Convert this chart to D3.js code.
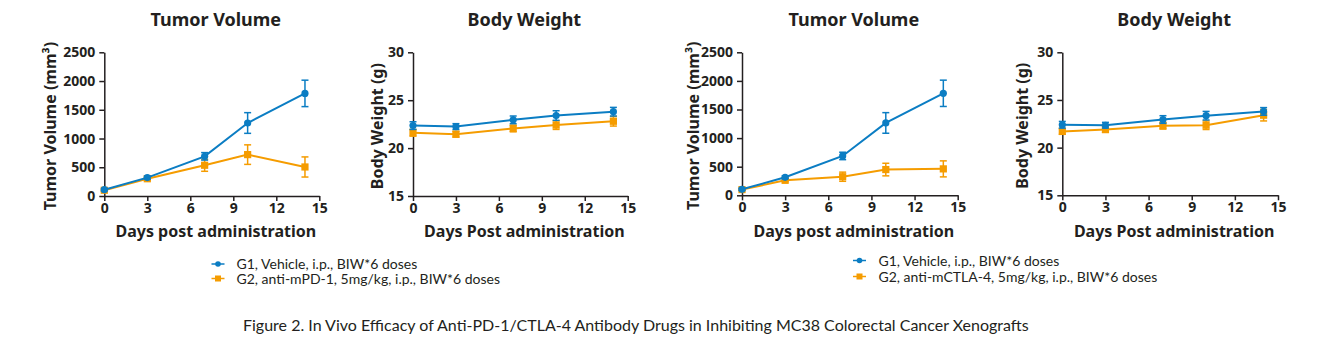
<!DOCTYPE html>
<html>
<head>
<meta charset="utf-8">
<script src="https://cdn.jsdelivr.net/npm/d3@7"></script>
<style>
  body { margin: 0; background: #fff; }
  svg { display: block; }
  text { font-family: Lato, "Open Sans", sans-serif; fill: #231f20; }
  .bold { font-family: "Noto Sans", sans-serif; font-weight: bold; }
</style>
</head>
<body>
<svg id="chart" width="1328" height="354"></svg>
<script>
// days measured
const days = [0, 3, 7, 10, 14];
const xTicks = [0, 3, 6, 9, 12, 15];
const tvTicks = [0, 500, 1000, 1500, 2000, 2500];
const bwTicks = [15, 20, 25, 30];

// experiment 1 : anti-PD-1
const tvVehicleA = [110, 320, 690, 1270, 1785];
const tvVehicleAErr = [20, 25, 65, 180, 230];
const tvPD1 = [100, 300, 535, 720, 505];
const tvPD1Err = [15, 20, 105, 170, 175];
const bwVehicleA = [22.35, 22.25, 22.95, 23.4, 23.8];
const bwVehicleAErr = [0.4, 0.3, 0.4, 0.5, 0.45];
const bwPD1 = [21.6, 21.45, 22.05, 22.4, 22.8];
const bwPD1Err = [0.35, 0.3, 0.35, 0.45, 0.5];

// experiment 2 : anti-CTLA-4
const tvVehicleB = [105, 315, 688, 1265, 1783];
const tvVehicleBErr = [20, 25, 65, 180, 230];
const tvCTLA4 = [100, 262, 325, 450, 462];
const tvCTLA4Err = [15, 25, 80, 110, 140];
const bwVehicleB = [22.4, 22.35, 22.95, 23.35, 23.8];
const bwVehicleBErr = [0.35, 0.3, 0.4, 0.45, 0.4];
const bwCTLA4 = [21.7, 21.9, 22.3, 22.35, 23.4];
const bwCTLA4Err = [0.3, 0.3, 0.35, 0.45, 0.6];

const legendA = ["G1, Vehicle, i.p., BIW*6 doses", "G2, anti-mPD-1, 5mg/kg, i.p., BIW*6 doses"];
const legendB = ["G1, Vehicle, i.p., BIW*6 doses", "G2, anti-mCTLA-4, 5mg/kg, i.p., BIW*6 doses"];
const caption = "Figure 2. In Vivo Efficacy of Anti-PD-1/CTLA-4 Antibody Drugs in Inhibiting MC38 Colorectal Cancer Xenografts";

const BLUE = "#0b7dc3";
const ORANGE = "#f59c00";

const svg = d3.select("#chart");

const panels = [
    {title: "Tumor Volume", yLabel: "Tumor Volume (mm³)", xLabel: "Days post administration",
     left: 104.3, right: 319.3, top: 52.3, bottom: 196, domain: [0, 2500], ticks: tvTicks, labelX: 50,
     series: [[tvPD1, tvPD1Err, ORANGE, "square"], [tvVehicleA, tvVehicleAErr, BLUE, "circle"]]},
    {title: "Body Weight", yLabel: "Body Weight (g)", xLabel: "Days Post administration",
     left: 413, right: 627.7, top: 52.3, bottom: 196, domain: [15, 30], ticks: bwTicks, labelX: 377,
     series: [[bwPD1, bwPD1Err, ORANGE, "square"], [bwVehicleA, bwVehicleAErr, BLUE, "circle"]]},
    {title: "Tumor Volume", yLabel: "Tumor Volume (mm³)", xLabel: "Days post administration",
     left: 742, right: 957.7, top: 52.3, bottom: 195.3, domain: [0, 2500], ticks: tvTicks, labelX: 693,
     series: [[tvCTLA4, tvCTLA4Err, ORANGE, "square"], [tvVehicleB, tvVehicleBErr, BLUE, "circle"]]},
    {title: "Body Weight", yLabel: "Body Weight (g)", xLabel: "Days Post administration",
     left: 1062.3, right: 1278, top: 52.3, bottom: 195.3, domain: [15, 30], ticks: bwTicks, labelX: 1022,
     series: [[bwCTLA4, bwCTLA4Err, ORANGE, "square"], [bwVehicleB, bwVehicleBErr, BLUE, "circle"]]}
];

const drawPanel = (p) => {
    const x = d3.scaleLinear().domain([0, 15]).range([p.left, p.right]);
    const y = d3.scaleLinear().domain(p.domain).range([p.bottom, p.top]);
    const g = svg.append("g");
    const mid = (p.left + p.right) / 2;

    // axes
    const xAxis = g.append("g").attr("transform", `translate(0,${p.bottom})`)
        .call(d3.axisBottom(x).tickValues(xTicks).tickFormat(d3.format("d"))
            .tickSize(5).tickSizeOuter(0).tickPadding(2));
    const yAxis = g.append("g").attr("transform", `translate(${p.left},0)`)
        .call(d3.axisLeft(y).tickValues(p.ticks).tickFormat(d3.format("d"))
            .tickSize(5).tickSizeOuter(0).tickPadding(4));
    [xAxis, yAxis].forEach(a => {
        a.select(".domain").attr("stroke", "#231f20").attr("stroke-width", 1.5);
        a.selectAll(".tick line").attr("stroke", "#231f20").attr("stroke-width", 1.5);
        a.selectAll(".tick text").attr("class", "bold")
            .style("font-size", "14px").attr("fill", "#231f20");
    });

    g.append("text").attr("class", "bold").attr("x", mid + 4).attr("y", 26).attr("text-anchor", "middle")
        .style("font-size", "18px").text(p.title);
    g.append("text").attr("class", "bold").attr("x", mid + 4).attr("y", 237).attr("text-anchor", "middle")
        .style("font-size", "16px").text(p.xLabel);
    g.append("text").attr("class", "bold")
        .attr("transform", `translate(${p.labelX + 6},${(p.top + p.bottom) / 2 + 2}) rotate(-90)`)
        .attr("text-anchor", "middle").style("font-size", "16px").text(p.yLabel);

    const line = d3.line().x(d => x(d[0])).y(d => y(d[1]));
    p.series.forEach(([vals, errs, color, shape]) => {
        const pts = days.map((d, i) => [d, vals[i], errs[i]]);
        const s = g.append("g");
        s.append("path").datum(pts).attr("d", line).attr("fill", "none")
            .attr("stroke", color).attr("stroke-width", 2);
        const eb = s.selectAll(".err").data(pts).join("g").attr("stroke", color).attr("stroke-width", 1.5);
        eb.append("line").attr("x1", d => x(d[0])).attr("x2", d => x(d[0]))
            .attr("y1", d => y(d[1] - d[2])).attr("y2", d => y(d[1] + d[2]));
        [-1, 1].forEach(sg => {
            eb.append("line").attr("x1", d => x(d[0]) - 3.5).attr("x2", d => x(d[0]) + 3.5)
                .attr("y1", d => y(d[1] + sg * d[2])).attr("y2", d => y(d[1] + sg * d[2]));
        });
        if (shape === "circle") {
            s.selectAll("circle").data(pts).join("circle")
                .attr("cx", d => x(d[0])).attr("cy", d => y(d[1])).attr("r", 3.6).attr("fill", color);
        } else {
            s.selectAll("rect").data(pts).join("rect")
                .attr("x", d => x(d[0]) - 3.6).attr("y", d => y(d[1]) - 3.6)
                .attr("width", 7.2).attr("height", 7.2).attr("fill", color);
        }
    });
};

panels.forEach(drawPanel);

const drawLegend = (labels, iconX0, textX, rowY) => {
    const g = svg.append("g");
    const items = [[BLUE, "circle"], [ORANGE, "square"]];
    labels.forEach((label, i) => {
        const cy = rowY[i];
        const [color, shape] = items[i];
        g.append("line").attr("x1", iconX0).attr("x2", iconX0 + 13).attr("y1", cy).attr("y2", cy)
            .attr("stroke", color).attr("stroke-width", 1.5);
        if (shape === "circle") {
            g.append("circle").attr("cx", iconX0 + 6.5).attr("cy", cy).attr("r", 2.8).attr("fill", color);
        } else {
            g.append("rect").attr("x", iconX0 + 3.5).attr("y", cy - 3).attr("width", 6).attr("height", 6).attr("fill", color);
        }
        g.append("text").attr("x", textX).attr("y", cy + 5).style("font-size", "14px").text(label);
    });
};

drawLegend(legendA, 211.5, 236.5, [264, 278.5]);
drawLegend(legendB, 853, 878.5, [260.5, 276.5]);

svg.append("text").attr("x", 243).attr("y", 331).style("font-size", "16px").text(caption);
</script>
</body>
</html>
